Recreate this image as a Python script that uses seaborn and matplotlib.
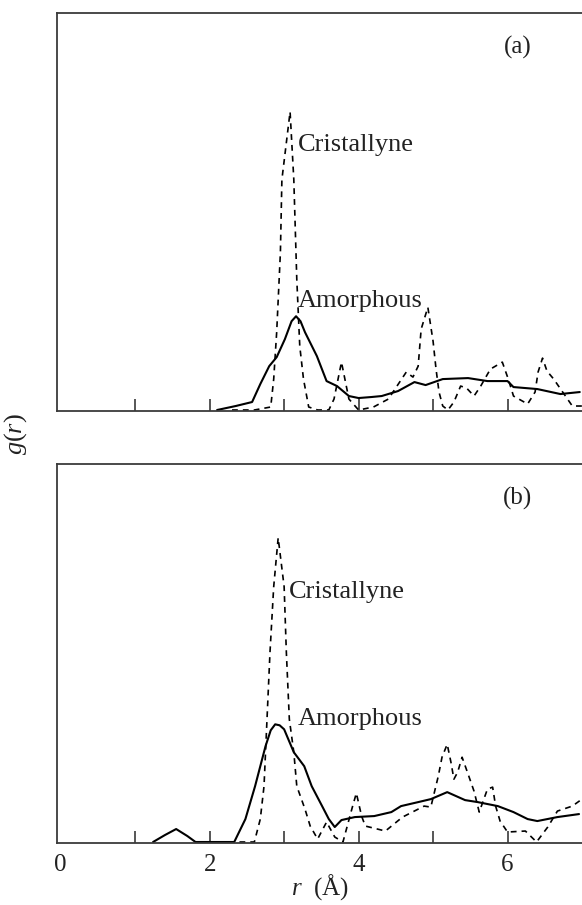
import numpy as np
import pandas as pd
import matplotlib
matplotlib.use("Agg")
import matplotlib.pyplot as plt
from matplotlib.ticker import FixedLocator, FixedFormatter
import seaborn as sns

#%% Data (g(r), arbitrary units)
# panel (a)
r_a_amor = [2.10, 2.35, 2.57, 2.68, 2.80, 2.90, 3.01, 3.10, 3.16, 3.22, 3.28, 3.44, 3.57, 3.71,
            3.87, 4.00, 4.17, 4.31, 4.53, 4.75, 4.90, 5.13, 5.47, 5.73, 6.00, 6.08, 6.40, 6.71,
            6.97]
g_a_amor = [0.00, 0.04, 0.08, 0.26, 0.44, 0.53, 0.71, 0.89, 0.94, 0.89, 0.78, 0.54, 0.29, 0.24,
            0.14, 0.12, 0.13, 0.14, 0.19, 0.28, 0.25, 0.31, 0.32, 0.29, 0.29, 0.23, 0.21, 0.16,
            0.18]

r_a_crys = [2.30, 2.60, 2.82, 2.86, 2.90, 2.95, 2.97, 3.08, 3.13, 3.17, 3.21, 3.26, 3.33, 3.45,
            3.60, 3.67, 3.77, 3.87, 4.00, 4.20, 4.40, 4.64, 4.73, 4.80, 4.84, 4.93, 5.00, 5.04,
            5.08, 5.13, 5.20, 5.28, 5.37, 5.45, 5.55, 5.64, 5.77, 5.93, 6.01, 6.08, 6.27, 6.37,
            6.41, 6.47, 6.53, 6.62, 6.87, 7.00]
g_a_crys = [0.00, 0.00, 0.03, 0.31, 0.78, 1.58, 2.31, 2.99, 2.31, 1.31, 0.64, 0.31, 0.03, 0.00,
            0.00, 0.11, 0.48, 0.11, 0.00, 0.03, 0.11, 0.38, 0.33, 0.44, 0.81, 1.03, 0.69, 0.41,
            0.18, 0.04, 0.00, 0.08, 0.24, 0.22, 0.14, 0.24, 0.41, 0.48, 0.31, 0.14, 0.06, 0.18,
            0.38, 0.52, 0.39, 0.31, 0.04, 0.04]

# panel (b)
r_b_amor = [1.24, 1.40, 1.55, 1.70, 1.81, 2.00, 2.33, 2.48, 2.61, 2.75, 2.82, 2.88, 2.94, 3.00,
            3.13, 3.27, 3.37, 3.51, 3.60, 3.68, 3.77, 3.95, 4.21, 4.44, 4.57, 4.80, 4.97, 5.19,
            5.43, 5.60, 5.87, 6.08, 6.27, 6.40, 6.67, 6.96]
g_b_amor = [0.00, 0.07, 0.13, 0.06, 0.00, 0.00, 0.00, 0.23, 0.56, 0.96, 1.12, 1.18, 1.17, 1.13,
            0.90, 0.76, 0.56, 0.36, 0.23, 0.15, 0.22, 0.25, 0.26, 0.30, 0.36, 0.40, 0.43, 0.50,
            0.42, 0.40, 0.36, 0.30, 0.23, 0.21, 0.25, 0.28]

r_b_crys = [2.40, 2.60, 2.68, 2.73, 2.77, 2.81, 2.86, 2.92, 3.00, 3.03, 3.07, 3.13, 3.17, 3.28,
            3.35, 3.45, 3.57, 3.68, 3.79, 3.92, 3.97, 4.04, 4.09, 4.36, 4.59, 4.88, 4.97, 5.07,
            5.12, 5.19, 5.24, 5.28, 5.33, 5.39, 5.48, 5.55, 5.62, 5.73, 5.80, 5.84, 5.90, 6.00,
            6.24, 6.39, 6.54, 6.67, 6.87, 7.00]
g_b_crys = [0.00, 0.00, 0.23, 0.56, 1.23, 1.90, 2.56, 3.05, 2.56, 1.90, 1.23, 0.90, 0.56, 0.33,
            0.16, 0.03, 0.20, 0.05, 0.00, 0.36, 0.49, 0.26, 0.16, 0.11, 0.25, 0.36, 0.35, 0.66,
            0.85, 0.98, 0.80, 0.63, 0.70, 0.85, 0.66, 0.51, 0.30, 0.53, 0.55, 0.36, 0.21, 0.10,
            0.11, 0.00, 0.15, 0.31, 0.36, 0.43]

tick_pos = [0, 1, 2, 3, 4, 5, 6]
tick_lab = ["0", "", "2", "", "4", "", "6"]

#%% Style
sns.set_style("ticks")
plt.rcParams['font.family'] = ['Liberation Serif', 'DejaVu Serif']
plt.rcParams['mathtext.fontset'] = 'custom'
plt.rcParams['mathtext.rm'] = 'Liberation Serif'
plt.rcParams['mathtext.it'] = 'Liberation Serif:italic'
spine_col = "#3a3a3a"
text_col = "#222222"

fig = plt.figure(figsize=(5.82, 9.05), dpi=100)
ax1 = fig.add_axes([57/582, 1 - 411/905, 1 - 57/582, 398/905])
ax2 = fig.add_axes([57/582, 1 - 843/905, 1 - 57/582, 379/905])

panels = [
    (ax1, r_a_amor, g_a_amor, r_a_crys, g_a_crys, 3.98, "(a)", (3.18, 2.66), (3.18, 1.09)),
    (ax2, r_b_amor, g_b_amor, r_b_crys, g_b_crys, 3.79, "(b)", (3.06, 2.51), (3.18, 1.23)),
]

for ax, ra, ga, rc, gc, ytop, tag, pos_c, pos_a in panels:
    amor = pd.DataFrame({"r": ra, "g": ga})
    crys = pd.DataFrame({"r": rc, "g": gc})
    sns.lineplot(data=crys, x="r", y="g", ax=ax, color="black", lw=1.2,
                 linestyle=(0, (3.5, 3)), estimator=None, sort=False)
    sns.lineplot(data=amor, x="r", y="g", ax=ax, color="black", lw=1.5,
                 estimator=None, sort=False)
    ax.set_xlim(-0.05, 7.0)
    ax.set_ylim(-0.01, ytop)
    ax.set_yticks([])
    ax.set_ylabel("")
    ax.set_xlabel("")
    ax.xaxis.set_major_locator(FixedLocator(tick_pos))
    ax.xaxis.set_major_formatter(FixedFormatter(tick_lab))
    ax.tick_params(axis="x", direction="in", length=9, width=1.2, color=spine_col,
                   labelsize=18, labelcolor=text_col, pad=8)
    ax.xaxis.get_major_ticks()[0].tick1line.set_visible(False)
    for s in ["left", "top", "bottom"]:
        ax.spines[s].set_color(spine_col)
        ax.spines[s].set_linewidth(1.3)
    ax.spines["right"].set_visible(False)
    ax.text(6.14, ytop - 0.35, tag, fontsize=18, ha="center", va="center", color=text_col)
    ax.text(pos_c[0], pos_c[1], "Cristallyne", fontsize=19, ha="left", va="center",
            color=text_col)
    ax.text(pos_a[0], pos_a[1], "Amorphous", fontsize=19, ha="left", va="center",
            color=text_col)

ax1.tick_params(axis="x", labelbottom=False)
ax2.set_xlabel("$r$  (Å)", fontsize=18, labelpad=-3, color=text_col)
fig.text(0.026, 1 - 434/905, "$g(r)$", rotation=90, fontsize=19, ha="center", va="center",
         color=text_col)

fig.savefig("out.png", dpi=100)
